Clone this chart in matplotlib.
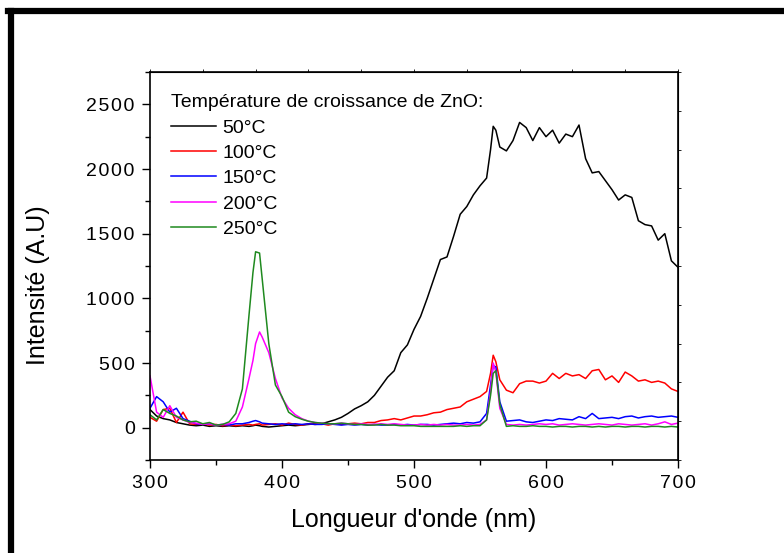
import numpy as np
import matplotlib
matplotlib.use('Agg')
import matplotlib.pyplot as plt
from matplotlib.ticker import MultipleLocator, FuncFormatter
from matplotlib.lines import Line2D

plt.rcParams['font.family'] = ['Liberation Sans', 'DejaVu Sans']

# wavelength grid (nm) and intensities
wl = [300, 305, 310, 315, 320, 325, 330, 335, 340, 345, 350, 355, 360, 365, 370, 375, 378,
      380, 383, 385, 390, 395, 400, 405, 410, 415, 420, 425, 430, 435, 440, 445, 450, 455,
      460, 465, 470, 475, 480, 485, 490, 495, 500, 505, 510, 515, 520, 525, 530, 535, 540,
      545, 550, 555, 558, 560, 562, 565, 570, 575, 580, 585, 590, 595, 600, 605, 610, 615,
      620, 625, 630, 635, 640, 645, 650, 655, 660, 665, 670, 675, 680, 685, 690, 695, 700]

t50 = [140, 90, 70, 60, 40, 30, 20, 15, 20, 10, 15, 10, 15, 10, 15, 10, 15,
       20, 15, 10, 5, 10, 15, 20, 15, 20, 25, 30, 30, 45, 60, 80, 110, 145,
       170, 200, 250, 320, 390, 440, 580, 640, 760, 860, 1000, 1150, 1300, 1320, 1480, 1650, 1710,
       1800, 1870, 1930, 2150, 2330, 2300, 2170, 2140, 2220, 2360, 2320, 2220, 2320, 2250, 2300, 2200, 2270,
       2250, 2340, 2080, 1970, 1980, 1910, 1840, 1760, 1800, 1780, 1600, 1570, 1560, 1450, 1500, 1290, 1240]

t100 = [80, 50, 140, 150, 40, 120, 30, 25, 30, 20, 25, 15, 20, 15, 20, 25, 20,
        25, 30, 20, 25, 30, 20, 35, 25, 20, 30, 25, 30, 20, 30, 25, 30, 35,
        30, 40, 40, 55, 60, 70, 60, 75, 90, 90, 100, 115, 120, 140, 150, 160, 200,
        220, 240, 280, 420, 560, 510, 370, 290, 270, 340, 360, 360, 345, 360, 420, 380, 420,
        400, 410, 380, 440, 450, 370, 400, 350, 430, 400, 360, 370, 350, 360, 345, 300, 280]

t150 = [150, 240, 200, 120, 150, 70, 50, 30, 25, 30, 20, 25, 20, 30, 30, 40, 50,
        55, 45, 35, 30, 25, 30, 25, 30, 25, 30, 25, 25, 30, 25, 20, 25, 20,
        25, 20, 25, 20, 20, 25, 20, 25, 20, 25, 25, 20, 25, 30, 35, 30, 40,
        35, 45, 110, 330, 480, 470, 200, 50, 55, 60, 45, 40, 50, 60, 55, 70, 65,
        60, 85, 70, 110, 70, 75, 80, 70, 85, 90, 75, 85, 90, 80, 85, 90, 80]

t200 = [400, 120, 80, 170, 80, 60, 40, 35, 25, 30, 20, 25, 30, 50, 160, 380, 520,
        650, 740, 700, 580, 380, 230, 150, 100, 70, 50, 40, 35, 30, 30, 35, 30, 25,
        30, 25, 25, 30, 25, 30, 25, 20, 20, 25, 20, 25, 20, 25, 20, 20, 25,
        20, 25, 60, 280, 500, 430, 150, 25, 20, 25, 20, 25, 30, 25, 30, 20, 25,
        30, 25, 20, 25, 30, 25, 20, 30, 25, 20, 25, 30, 20, 30, 45, 25, 35]

t250 = [100, 60, 140, 110, 90, 60, 45, 50, 30, 40, 20, 25, 45, 110, 300, 870, 1200,
        1360, 1350, 1150, 650, 330, 240, 120, 85, 65, 50, 40, 35, 30, 30, 35, 30, 25,
        25, 20, 20, 25, 20, 20, 15, 15, 15, 10, 10, 10, 10, 10, 10, 15, 10,
        15, 15, 60, 250, 420, 440, 180, 10, 15, 10, 10, 15, 10, 10, 5, 10, 10,
        5, 10, 10, 5, 10, 5, 10, 10, 5, 10, 10, 5, 10, 10, 5, 10, 5]

labels = ['50°C', '100°C', '150°C', '200°C', '250°C']
colors = ['black', '#ff0000', '#0000ff', '#ff00ff', '#1f8a1f']
series = [t50, t100, t150, t200, t250]

fig = plt.figure(figsize=(7.84, 5.53), dpi=100)
ax = fig.add_axes([150/784, 1 - 460/553, 528/784, 388/553])

for s, c, lab in zip(series, colors, labels):
    ax.plot(wl, s, color=c, lw=1.1, label=lab)

ax.set_xlim(300, 700)
ax.set_ylim(-250, 2750)
ax.xaxis.set_major_locator(MultipleLocator(100))
ax.xaxis.set_minor_locator(MultipleLocator(50))
ax.yaxis.set_major_locator(MultipleLocator(500))
ax.yaxis.set_minor_locator(MultipleLocator(250))

spaced = FuncFormatter(lambda v, p: '\u200a'.join('%d' % v))
ax.xaxis.set_major_formatter(spaced)
ax.yaxis.set_major_formatter(spaced)

ax.tick_params(which='major', direction='out', length=6, width=1, labelsize=14, pad=5)
ax.tick_params(which='minor', direction='out', length=3.5, width=1)
for sp in ax.spines.values():
    sp.set_linewidth(1.2)

# top and right axes carry their own small ticks
top = ax.secondary_xaxis('top')
top.set_xticks(np.arange(300, 701, 40))
top.tick_params(direction='out', length=2, width=0.6, labelsize=0, labeltop=False)
right = ax.secondary_yaxis('right')
right.set_yticks(np.arange(-250, 2751, 300))
right.tick_params(direction='out', length=2, width=0.6, labelsize=0, labelright=False)

ax.set_xlabel("Longueur d'onde (nm)", fontsize=18)
ax.xaxis.set_label_coords(0.5, -0.125)
ax.set_ylabel('Intensité (A.U)', fontsize=18)
ax.yaxis.set_label_coords(-0.19, 0.45)

leg = ax.legend(title='Température de croissance de ZnO:', loc='upper left',
                bbox_to_anchor=(0.04, 0.943), frameon=False, fontsize=14,
                title_fontsize=14, borderaxespad=0, borderpad=0,
                handlelength=2.3, handletextpad=0.35, labelspacing=0.4,
                alignment='left')

# thick frame round the picture (left and top edges visible)
fig.add_artist(Line2D([11/784, 11/784], [0, 1 - 11/553], color='black', lw=4.5,
                      transform=fig.transFigure))
fig.add_artist(Line2D([8/784, 1], [1 - 11/553, 1 - 11/553], color='black', lw=4.5,
                      transform=fig.transFigure))

fig.savefig('out.png', dpi=100)
